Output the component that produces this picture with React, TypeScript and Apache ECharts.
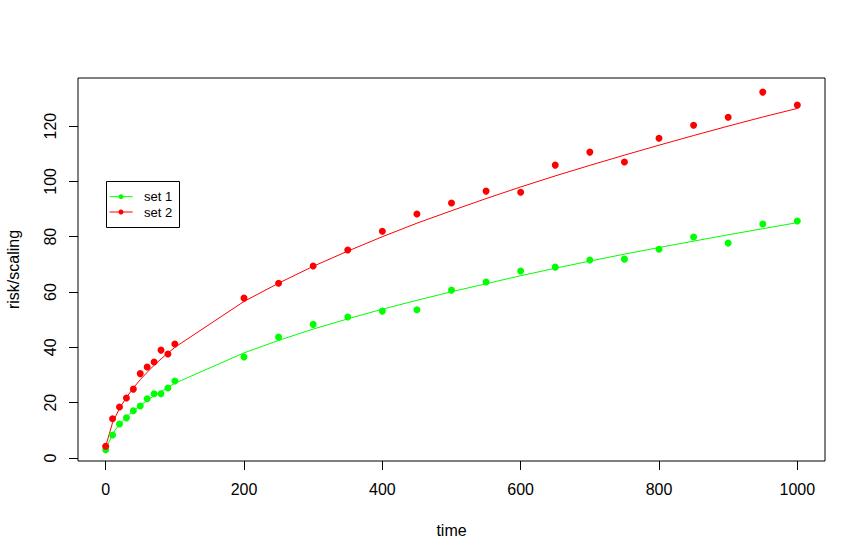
import React, { useEffect, useRef } from "react";
import * as echarts from "echarts";

const timeValues = [0, 10, 20, 30, 40, 50, 60, 70, 80, 90, 100, 200, 250, 300, 350, 400, 450, 500, 550, 600, 650, 700, 750, 800, 850, 900, 950, 1000];
const set1Values = [3.0, 8.3, 12.3, 14.5, 17.1, 18.8, 21.4, 23.2, 23.2, 25.3, 27.8, 36.5, 43.7, 48.3, 51.0, 53.1, 53.6, 60.7, 63.6, 67.6, 69.0, 71.6, 71.9, 75.5, 79.9, 77.7, 84.6, 85.7];
const set2Values = [4.2, 14.2, 18.4, 21.7, 24.9, 30.5, 32.9, 34.7, 39.0, 37.6, 41.2, 57.8, 63.2, 69.4, 75.2, 82.0, 88.2, 92.2, 96.5, 96.1, 105.9, 110.6, 107.0, 115.6, 120.3, 123.2, 132.3, 127.6];
const set1Fit = [3.0, 8.8, 12.2, 14.8, 17.0, 19.0, 20.8, 22.5, 24.0, 25.5, 27.0, 38.0, 42.5, 46.6, 50.3, 53.8, 57.0, 60.1, 63.0, 65.9, 68.6, 71.2, 73.7, 76.1, 78.4, 80.7, 82.9, 85.1];
const set2Fit = [4.2, 12.8, 17.9, 21.9, 25.3, 28.3, 31.0, 33.5, 35.8, 37.9, 40.0, 56.6, 63.2, 69.3, 74.8, 80.0, 84.9, 89.4, 93.8, 98.0, 102.0, 105.8, 109.5, 113.1, 116.6, 120.0, 123.3, 126.4];
const xTicks = [0, 200, 400, 600, 800, 1000];
const yTicks = [0, 20, 40, 60, 80, 100, 120];
const seriesNames = ["set 1", "set 2"];
const seriesColors = ["#00ff00", "#ff0000"];

const FONT = 'Arial, "Liberation Sans", sans-serif';

export default function App() {
  const ref = useRef<HTMLDivElement>(null);
  useEffect(() => {
    if (!ref.current) return;
    const chart = echarts.init(ref.current, undefined, { renderer: "svg" });
    const pairs = (ys: number[]) => timeValues.map((x, i) => [x, ys[i]]);
    const legendRows = seriesNames.map((name, i) => {
      const y = 196.7 + i * 15.3;
      return [
        { type: "line", shape: { x1: 109.5, y1: y, x2: 132.7, y2: y }, style: { stroke: seriesColors[i], lineWidth: 1 }, z: 101 },
        { type: "circle", shape: { cx: 121, cy: y, r: 2.5 }, style: { fill: seriesColors[i] }, z: 101 },
        { type: "text", x: 144, y: y, style: { text: name, fontSize: 13, fontFamily: FONT, fill: "#000", verticalAlign: "middle", align: "left" }, z: 101 },
      ];
    }).flat();
    chart.setOption({
      animation: false,
      backgroundColor: "#fff",
      textStyle: { fontFamily: FONT },
      grid: { left: 78, top: 78, right: 41, bottom: 98, show: true, borderColor: "#000", borderWidth: 1, containLabel: false, outerBoundsMode: "none" },
      xAxis: {
        type: "value", min: -40, max: 1040,
        name: "time", nameLocation: "middle", nameGap: 61, nameMoveOverlap: false,
        nameTextStyle: { fontSize: 16, color: "#000", fontFamily: FONT },
        axisLine: { show: false, onZero: false },
        axisTick: { show: true, customValues: xTicks, length: 9, lineStyle: { color: "#000" } },
        axisLabel: { customValues: xTicks, fontSize: 16, color: "#000", margin: 20, fontFamily: FONT, formatter: (v: number) => String(v) },
        splitLine: { show: false },
      },
      yAxis: {
        type: "value", min: -1.1, max: 137.4,
        name: "risk/scaling", nameLocation: "middle", nameGap: 57, nameRotate: 90, nameMoveOverlap: false,
        nameTextStyle: { fontSize: 16, color: "#000", fontFamily: FONT },
        axisLine: { show: false, onZero: false },
        axisTick: { show: true, customValues: yTicks, length: 9, lineStyle: { color: "#000" } },
        axisLabel: { customValues: yTicks, fontSize: 16, color: "#000", margin: 20, rotate: 90, fontFamily: FONT, formatter: (v: number) => String(v) },
        splitLine: { show: false },
      },
      series: [
        { name: seriesNames[0], type: "scatter", data: pairs(set1Values), symbol: "circle", symbolSize: 7, itemStyle: { color: seriesColors[0], opacity: 1 }, z: 3 },
        { name: seriesNames[1], type: "scatter", data: pairs(set2Values), symbol: "circle", symbolSize: 7, itemStyle: { color: seriesColors[1], opacity: 1 }, z: 3 },
        { name: seriesNames[0] + " fit", type: "line", data: pairs(set1Fit), showSymbol: false, lineStyle: { color: seriesColors[0], width: 1 }, z: 2 },
        { name: seriesNames[1] + " fit", type: "line", data: pairs(set2Fit), showSymbol: false, lineStyle: { color: seriesColors[1], width: 1 }, z: 2 },
      ],
      graphic: [
        { type: "rect", shape: { x: 106.5, y: 181.5, width: 73, height: 46 }, style: { fill: "#fff", stroke: "#000", lineWidth: 1 }, z: 100 },
        ...legendRows,
      ],
    });
    return () => chart.dispose();
  }, []);
  return <div ref={ref} style={{ position: "fixed", left: 0, top: 0, width: 866, height: 559 }} />;
}
